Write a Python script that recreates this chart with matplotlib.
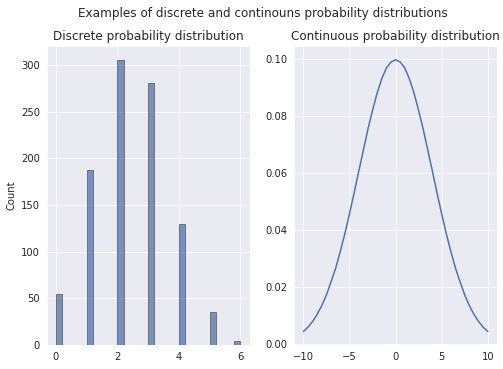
import matplotlib
matplotlib.use("Agg")
import matplotlib.pyplot as plt
import numpy as np
import seaborn as sns

# discrete outcomes and how often each occurred
outcomes = [0, 1, 2, 3, 4, 5, 6]
counts = [55, 188, 305, 281, 130, 35, 4]

# continuous density (half-unit steps)
x_vals = [-10, -9.5, -9, -8.5, -8, -7.5, -7, -6.5, -6, -5.5, -5, -4.5, -4,
          -3.5, -3, -2.5, -2, -1.5, -1, -0.5, 0,
          0.5, 1, 1.5, 2, 2.5, 3, 3.5, 4, 4.5, 5, 5.5, 6, 6.5, 7, 7.5, 8,
          8.5, 9, 9.5, 10]
density = [0.0044, 0.0059, 0.0079, 0.0104, 0.0135, 0.0172, 0.0218, 0.0266,
           0.0324, 0.0387, 0.0457, 0.0529, 0.0605, 0.0679, 0.0753, 0.0819,
           0.0880, 0.0930, 0.0968, 0.0989, 0.0997,
           0.0989, 0.0968, 0.0930, 0.0880, 0.0819, 0.0753, 0.0679, 0.0605,
           0.0529, 0.0457, 0.0387, 0.0324, 0.0266, 0.0218, 0.0172, 0.0135,
           0.0104, 0.0079, 0.0059, 0.0044]

sns.set_style("darkgrid")
sns.set_palette("deep")

fig, (ax0, ax1) = plt.subplots(1, 2, figsize=(503 / 72, 369 / 72), dpi=72)
fig.subplots_adjust(left=0.093, right=0.988, top=0.875, bottom=0.065, wspace=0.22)

sns.histplot(x=outcomes, weights=counts, bins=30, ax=ax0,
             color="#4c72b0", edgecolor="0.45", linewidth=1.0, alpha=0.75)
ax0.set_title("Discrete probability distribution")
ax0.set_ylabel("Count")

ax1.plot(x_vals, density, color="#4c72b0", linewidth=1.5)
ax1.set_title("Continuous probability distribution")

fig.suptitle("Examples of discrete and continouns probability distributions", x=0.523)

fig.savefig("out.png", dpi=72)
